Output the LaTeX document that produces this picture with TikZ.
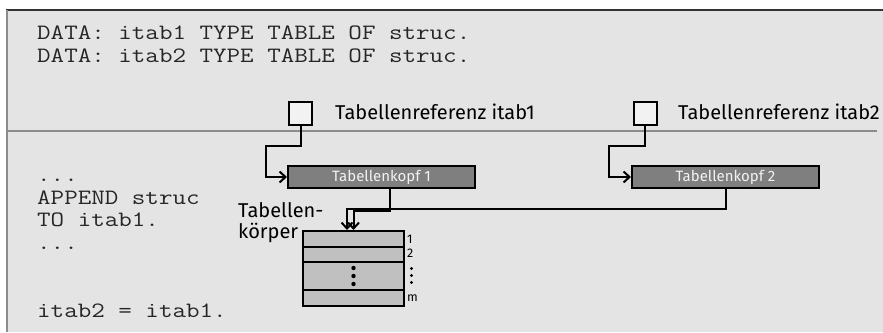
\documentclass[tikz,border=0pt]{standalone}
\usepackage{fontspec}
\setmainfont{Fira Sans}
\newfontfamily\codefont{Latin Modern Mono}[FakeStretch=1.2]
\usetikzlibrary{arrows.meta}
\definecolor{bggray}{HTML}{E4E4E4}
\definecolor{boxgray}{HTML}{F2F2F2}
\definecolor{kopfgray}{HTML}{7F7F7F}
\definecolor{rowgray}{HTML}{C0C0C0}
\definecolor{linegray}{HTML}{8C8C8C}
\begin{document}
\begin{tikzpicture}[x=1pt, y=-1pt,
    refbox/.style={rectangle, draw, line width=2pt, fill=boxgray, minimum size=23pt, inner sep=0pt},
    kopf/.style={rectangle, draw, line width=2pt, fill=kopfgray, text=boxgray, minimum width=187pt, minimum height=22pt, inner sep=0pt, font=\fontsize{15}{18}\selectfont},
    row/.style={rectangle, draw, line width=2pt, fill=rowgray, minimum width=101pt, inner sep=0pt},
    code/.style={anchor=base west, inner sep=0pt, text=black!85, font=\codefont\fontsize{21.9}{22}\selectfont},
    lbl/.style={anchor=west, inner sep=0pt, font=\fontsize{20}{23}\selectfont},
    idx/.style={anchor=west, inner sep=0pt, font=\fontsize{12.5}{13}\selectfont},
    conn/.style={draw, line width=2pt, -{Straight Barb[length=6pt, width=11pt]}}]
      \useasboundingbox (0,0) rectangle (883,332);
      \fill[bggray] (8,10) rectangle (883,332);
      \draw[line width=1.5pt, black!80] (6,10) -- (883,10);
      \draw[line width=2pt, linegray] (7,10) -- (7,332);
      \draw[line width=2pt, linegray] (8,131) -- (877,131);
      % code
      \node (c1) at (37,39) [code] {DATA: itab1 TYPE TABLE OF struc.};
      \node (c2) at (37,62) [code] {DATA: itab2 TYPE TABLE OF struc.};
      \node (c3) at (37,181) [code] {...};
      \node (c4) at (37,204) [code] {APPEND struc};
      \node (c5) at (37,226) [code] {TO itab1.};
      \node (c6) at (37,249) [code] {...};
      \node (c7) at (37,317) [code] {itab2 = itab1.};
      % references and table headers
      \node (1) at (300.5,113.5) [refbox] {};
      \node (2) at (645,113.5) [refbox] {};
      \node (l1) at (335,112) [lbl] {Tabellenreferenz itab1};
      \node (l2) at (678,112) [lbl] {Tabellenreferenz itab2};
      \node (3) at (381.5,177) [kopf] {Tabellenkopf 1};
      \node (4) at (725.5,177) [kopf] {Tabellenkopf 2};
      % table body
      \node (5) at (353.5,239) [row, minimum height=16pt] {};
      \node (6) at (353.5,254.5) [row, minimum height=15pt] {};
      \node (7) at (353.5,276) [row, minimum height=28pt] {};
      \node (8) at (353.5,298) [row, minimum height=16pt] {};
      \node (l3) at (238,210) [lbl] {Tabellen-};
      \node (l4) at (238,233) [lbl] {körper};
      \node (i1) at (407,239) [idx] {1};
      \node (i2) at (407,253) [idx] {2};
      \node (i3) at (407,298) [idx] {m};
      \foreach \y in {268,276,284}
        \fill (353.5,\y) circle (2.2pt);
      \foreach \y in {268.5,275.5,282.5}
        \fill (411.5,\y) circle (1.7pt);
      \path[conn] (1.south) -- ++(0,20) -- ++(-35,0) |- (3.west);
      \path[conn] (2.south) -- ++(0,20) -- ++(-36,0) |- (4.west);
      \path[conn] ([xshift=8pt]3.south) -- ++(0,22) -| (5.north);
      \path[conn] (4.south) -- ++(0,20) -| ([xshift=-6.5pt]5.north);
\end{tikzpicture}
\end{document}
